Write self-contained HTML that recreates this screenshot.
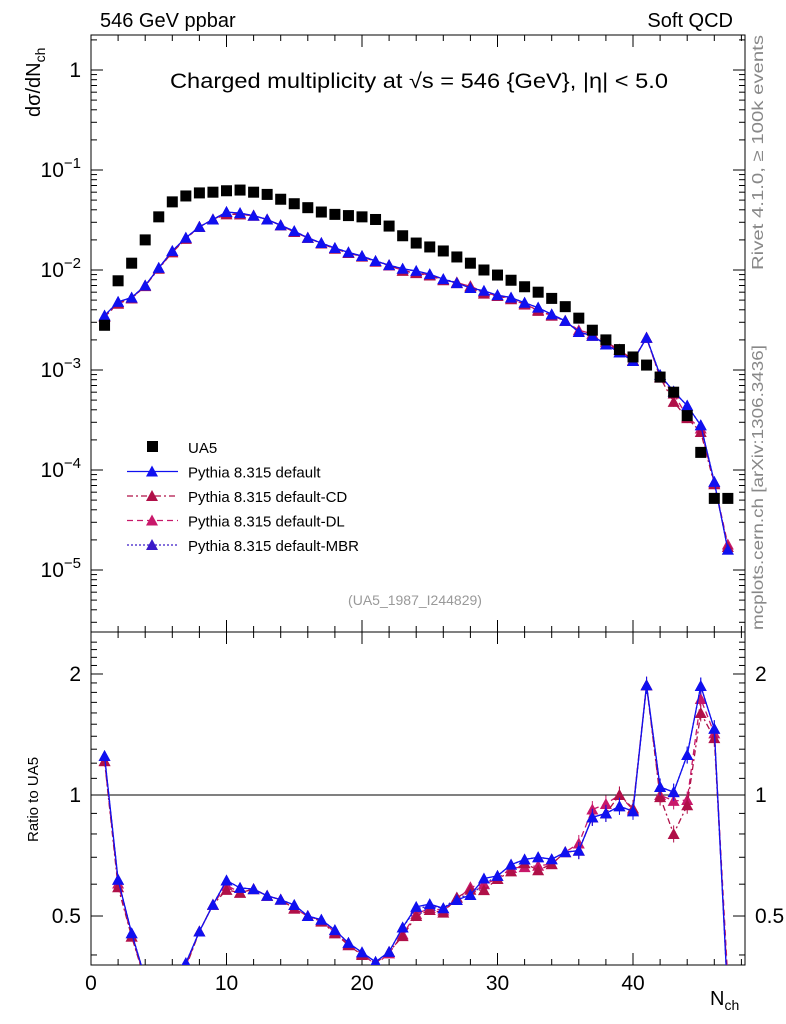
<!DOCTYPE html>
<html><head><meta charset="utf-8"><style>
body{margin:0;background:#fff;}
svg{display:block;font-family:"Liberation Sans",sans-serif;}
</style></head><body>
<svg id="c" width="786" height="1024">
<text x="100" y="27" font-size="20">546 GeV ppbar</text>
<text x="733" y="27" font-size="20" text-anchor="end">Soft QCD</text>
<text x="170" y="88" font-size="21" textLength="498" lengthAdjust="spacingAndGlyphs">Charged multiplicity at √s = 546 {GeV}, |η| &lt; 5.0</text>
<text transform="translate(40,117) rotate(-90)" font-size="20">dσ/dN<tspan font-size="14" dy="5">ch</tspan></text>
<text transform="translate(763,270) rotate(-90)" font-size="16" fill="#888" textLength="235" lengthAdjust="spacingAndGlyphs">Rivet 4.1.0, ≥ 100k events</text>
<text transform="translate(763,630) rotate(-90)" font-size="16" fill="#888" textLength="285" lengthAdjust="spacingAndGlyphs">mcplots.cern.ch [arXiv:1306.3436]</text>
<text x="415" y="605" font-size="14" fill="#999" text-anchor="middle">(UA5_1987_I244829)</text>
<text transform="translate(38,842) rotate(-90)" font-size="15">Ratio to UA5</text>
<text x="710" y="1005" font-size="20">N<tspan font-size="14" dy="5">ch</tspan></text>
</svg>
<script>
const N=[1,2,3,4,5,6,7,8,9,10,11,12,13,14,15,16,17,18,19,20,21,22,23,24,25,26,27,28,29,30,31,32,33,34,35,36,37,38,39,40,41,42,43,44,45,46,47];
const ua5=[2.8e-3,7.8e-3,0.0117,0.02,0.034,0.048,0.055,0.059,0.06,0.062,0.063,0.06,0.057,0.051,0.046,0.042,0.038,0.036,0.035,0.034,0.032,0.0275,0.022,0.0186,0.017,0.0155,0.0135,0.0117,0.01,0.0089,0.0079,0.0068,0.006,0.0052,0.0043,0.0033,0.0025,0.002,0.0016,0.00135,0.00112,8.5e-4,6e-4,3.5e-4,1.5e-4,5.2e-5,5.2e-5];
const pyDef=[3.5e-3,4.8e-3,5.3e-3,7e-3,0.0105,0.0155,0.021,0.027,0.032,0.038,0.037,0.035,0.032,0.028,0.0245,0.021,0.0186,0.0166,0.015,0.0138,0.0123,0.0112,0.0103,0.0098,0.0091,0.0081,0.0074,0.0066,0.0062,0.0056,0.0053,0.0047,0.0042,0.0036,0.0031,0.0024,0.0022,0.0018,0.0015,0.00123,0.0021,8.9e-4,6.1e-4,4.4e-4,2.8e-4,7.6e-5,1.6e-5];
const pyCD=[3.4e-3,4.6e-3,5.2e-3,6.9e-3,0.0103,0.015,0.0205,0.027,0.032,0.036,0.036,0.035,0.032,0.028,0.024,0.021,0.0184,0.0163,0.0148,0.0136,0.0122,0.0112,0.0098,0.0093,0.0088,0.0079,0.0075,0.0068,0.0058,0.0055,0.0051,0.0046,0.0039,0.0035,0.0031,0.0024,0.0022,0.0018,0.0016,0.00125,0.0021,8.4e-4,4.8e-4,3.3e-4,2.4e-4,7.2e-5,1.7e-5];
const pyDL=[3.4e-3,4.7e-3,5.2e-3,7e-3,0.0104,0.0152,0.0207,0.027,0.032,0.037,0.036,0.035,0.032,0.028,0.024,0.021,0.0185,0.0164,0.0149,0.0137,0.0121,0.0111,0.0099,0.0094,0.0089,0.008,0.0074,0.0069,0.006,0.0055,0.0052,0.0045,0.004,0.0035,0.0031,0.0025,0.0023,0.0019,0.0016,0.00124,0.0021,8.5e-4,5.8e-4,3.4e-4,2.6e-4,7.4e-5,1.8e-5];
const pyMBR=[3.5e-3,4.8e-3,5.3e-3,7e-3,0.0105,0.0155,0.021,0.027,0.032,0.038,0.037,0.035,0.032,0.028,0.0245,0.021,0.0186,0.0166,0.015,0.0138,0.0123,0.0112,0.0103,0.0097,0.009,0.0081,0.0075,0.0066,0.006,0.0056,0.0053,0.0047,0.0042,0.0036,0.0031,0.0024,0.0022,0.0018,0.0015,0.00123,0.0021,8.9e-4,6.1e-4,4.4e-4,2.8e-4,7.6e-5,1.6e-5];
const xTicks=[0,10,20,30,40];
const ratioTicks=[0.5,1,2];
const S="http://www.w3.org/2000/svg",svg=document.getElementById('c');
const X0=91,X1=745,T0=35,T1=632,R1=965;
const xs=v=>X0+v*13.55;
const ym=v=>70-100*Math.log10(v);
const yr=v=>795-402*Math.log10(v);
function el(t,a,p){const e=document.createElementNS(S,t);for(const k in a)e.setAttribute(k,a[k]);(p||svg).appendChild(e);return e;}
let f1=el('rect',{x:X0,y:T0,width:X1-X0,height:T1-T0,fill:'none',stroke:'#000'});


let f2=el('rect',{x:X0,y:T1,width:X1-X0,height:R1-T1,fill:'none',stroke:'#000'});


for(let v=0;v<=48;v+=2){const M=v%10==0,L=M?12:6,x=xs(v);
 [[T0,1],[T1,-1],[T1,1],[R1,-1]].forEach(([y,d])=>el('line',{x1:x,x2:x,y1:y,y2:y+d*L,stroke:'#000'}));}
xTicks.forEach(v=>{const t=el('text',{x:xs(v),y:R1+25,'font-size':21,'text-anchor':'middle'});t.textContent=v;

});
for(let e=-6;e<=1;e++)for(let m=1;m<10;m++){const v=m*Math.pow(10,e);const y=ym(v);if(y<T0||y>T1)continue;const L=m==1?12:6;
 el('line',{x1:X0,x2:X0+L,y1:y,y2:y,stroke:'#000'});el('line',{x1:X1,x2:X1-L,y1:y,y2:y,stroke:'#000'});
 if(m==1){const t=el('text',{x:X0-10,y:y+7,'font-size':21,'text-anchor':'end'});
 if(e==0)t.textContent='1';else{t.textContent='10';const s=el('tspan',{'font-size':15,dy:-9},t);s.textContent=e==-1?'−1':'−'+(-e);}
 
 }}
for(let v=0.4;v<=2.5;v+=0.1){const y=yr(v);if(y<T1||y>R1)continue;const r=Math.round(v*10);const M=r==5||r==10||r==20;const L=M?12:6;
 el('line',{x1:X0,x2:X0+L,y1:y,y2:y,stroke:'#000'});el('line',{x1:X1,x2:X1-L,y1:y,y2:y,stroke:'#000'});}
ratioTicks.forEach(v=>{[[X0-10,'end'],[X1+10,'start']].forEach(([x,a])=>{const t=el('text',{x:x,y:yr(v)+7,'font-size':21,'text-anchor':a});t.textContent=v;

});});
el('line',{x1:X0,x2:X1,y1:yr(1),y2:yr(1),stroke:'#000'});
const cp=el('clipPath',{id:'rc'});el('rect',{x:X0,y:T1,width:X1-X0,height:R1-T1},cp);
const series=[['default',pyDef,'#1010f0','',1.3],['default-CD',pyCD,'#b01048','6,3,2,3',1.3],['default-DL',pyDL,'#c8186a','6,4',1.3],['default-MBR',pyMBR,'#3a1ac8','2,2',1.3]];
function tri(g,x,y,c){el('path',{d:`M${x},${y-6}L${x+6},${y+5}L${x-6},${y+5}Z`,fill:c},g);}
series.slice().reverse().forEach(([nm,arr,c,da])=>{
 const g=el('g',{});
 el('polyline',{points:N.map((n,i)=>xs(n)+','+ym(arr[i])).join(' '),fill:'none',stroke:c,'stroke-width':1.3,'stroke-dasharray':da},g);
 N.forEach((n,i)=>{if(n>=42){el('line',{x1:xs(n),x2:xs(n),y1:ym(arr[i]*1.12),y2:ym(arr[i]/1.12),stroke:c},g);}tri(g,xs(n),ym(arr[i]),c);});
 const gr=el('g',{'clip-path':'url(#rc)'});
 el('polyline',{points:N.map((n,i)=>xs(n)+','+yr(arr[i]/ua5[i])).join(' '),fill:'none',stroke:c,'stroke-width':1.3,'stroke-dasharray':da},gr);
 N.forEach((n,i)=>{const r=arr[i]/ua5[i],e=n>35?0.05:0.02;el('line',{x1:xs(n),x2:xs(n),y1:yr(r*(1+e)),y2:yr(r/(1+e)),stroke:c},gr);tri(gr,xs(n),yr(r),c);});
});
const gd=el('g',{});
N.forEach((n,i)=>el('rect',{x:xs(n)-5.5,y:ym(ua5[i])-5.5,width:11,height:11,fill:'#000'},gd));
const leg=[['UA5',null],['Pythia 8.315 default',series[0]],['Pythia 8.315 default-CD',series[1]],['Pythia 8.315 default-DL',series[2]],['Pythia 8.315 default-MBR',series[3]]];
leg.forEach(([lab,s],i)=>{const y=447+i*24.5;const g=el('g',{});
 if(!s)el('rect',{x:147,y:y-6,width:11,height:11,fill:'#000'},g);
 else{el('line',{x1:127,x2:178,y1:y,y2:y,stroke:s[2],'stroke-width':1.3,'stroke-dasharray':s[3]},g);tri(g,152,y,s[2]);}
 const t=el('text',{x:188,y:y+6,'font-size':15},g);t.textContent=lab;});
</script>
</body></html>
